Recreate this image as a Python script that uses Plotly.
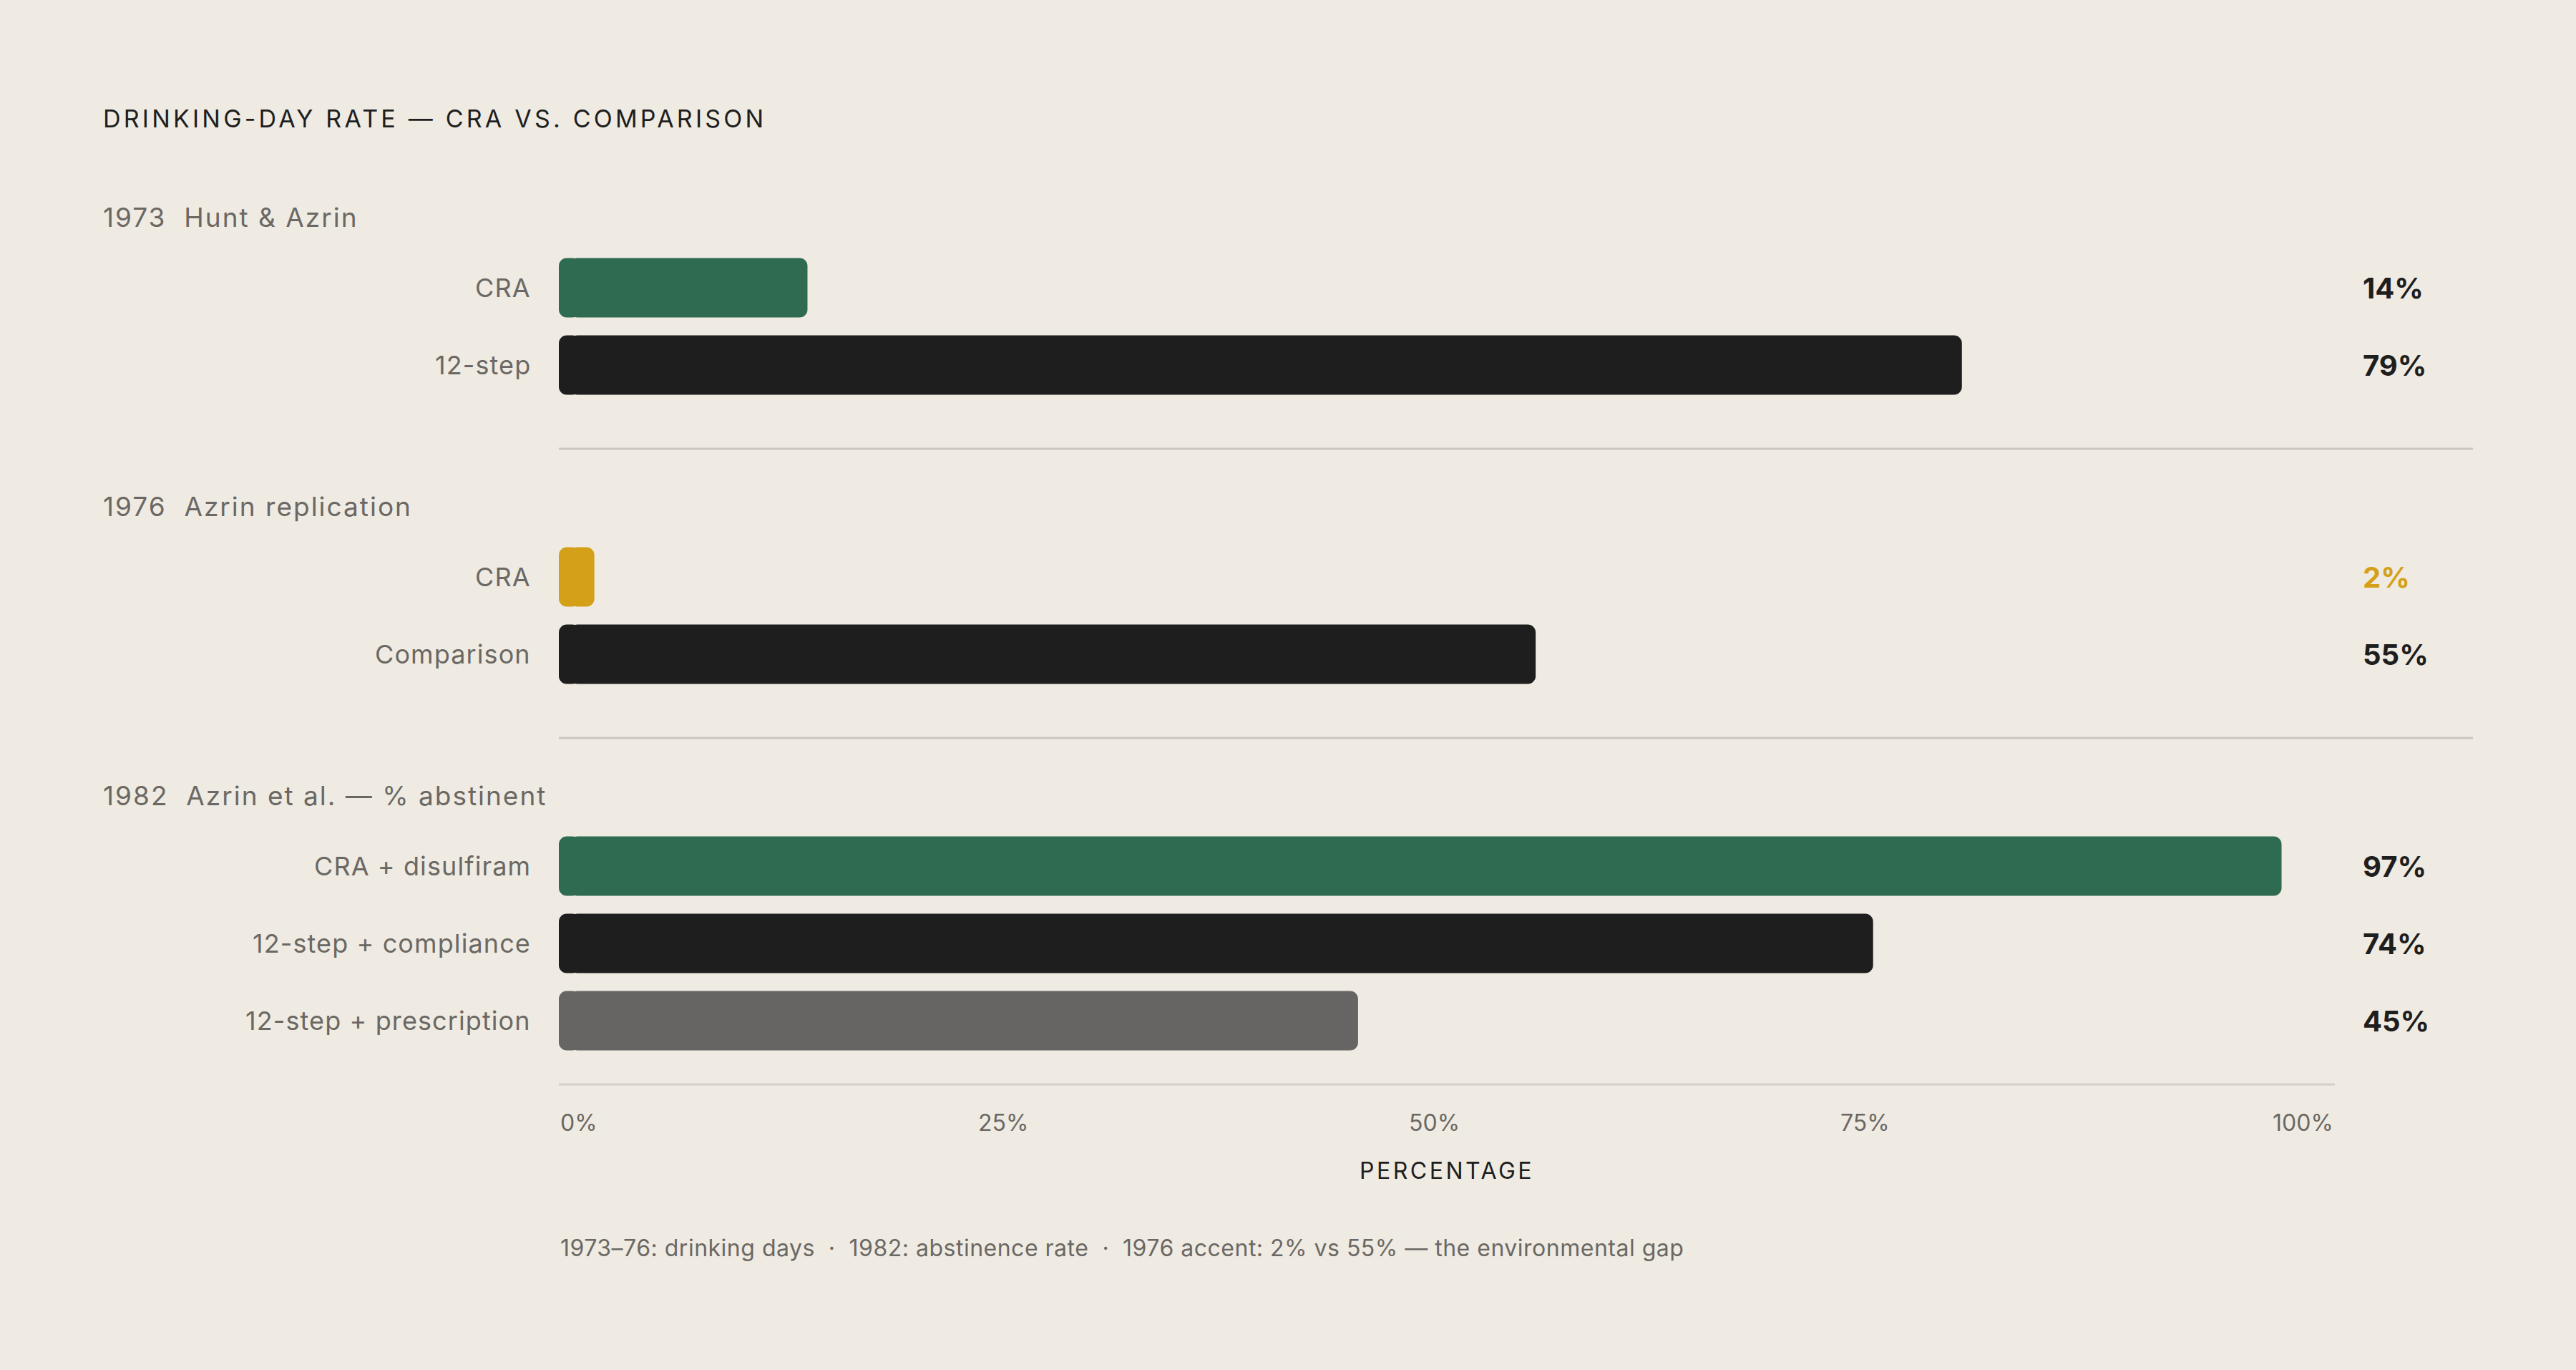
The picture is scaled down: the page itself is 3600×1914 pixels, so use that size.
import plotly.graph_objects as go

W, H = 3600, 1914

# data
group_titles = ["1973  Hunt & Azrin", "1976  Azrin replication", "1982  Azrin et al. — % abstinent"]
group_labels = [
    ["CRA", "12-step"],
    ["CRA", "Comparison"],
    ["CRA + disulfiram", "12-step + compliance", "12-step + prescription"],
]
group_values = [
    [14, 79],
    [2, 55],
    [97, 74, 45],
]
group_colors = [
    ["#2e6b50", "#1e1e1e"],
    ["#d4a017", "#1e1e1e"],
    ["#2e6b50", "#1e1e1e", "#666563"],
]
tick_vals = [0, 25, 50, 75, 100]
tick_text = ["0%", "25%", "50%", "75%", "100%"]

TITLE = "DRINKING-DAY RATE — CRA VS. COMPARISON"
X_TITLE = "PERCENTAGE"
FOOTNOTE = "1973–76: drinking days  ·  1982: abstinence rate  ·  1976 accent: 2% vs 55% — the environmental gap"

BG = "#efebe3"
INK = "#1e1e1e"
MUTED = "#6b6863"
FONT = "Inter"


def spaced(text, px):
    return f'<span style="letter-spacing:{px}px">{text}</span>'


# layout in pixels (y axis runs in pixels top->bottom)
X0, X1 = 781, 3263
FIRST_BAR = 402
PITCH = 108
BAR_H = 83
HEADER_OFF = 99
DIVIDER_OFF = 117
NEXT_HEADER_OFF = 80
CAP = 1.2  # length (in %) of the small left-rounded piece under each bar

# tick labels are spread edge to edge, like a space-between row
tick_anchor = ["left", "center", "center", "right", "right"]
tick_nudge = [0, 0, -18, 0, 0]

rows_y, rows_label, rows_val, rows_col = [], [], [], []
headers_y, dividers_y = [], []
y = FIRST_BAR
for gi, labels in enumerate(group_labels):
    headers_y.append(y - HEADER_OFF)
    for ri, lab in enumerate(labels):
        rows_y.append(y)
        rows_label.append(lab)
        rows_val.append(group_values[gi][ri])
        rows_col.append(group_colors[gi][ri])
        y += PITCH
    last = y - PITCH
    if gi < len(group_labels) - 1:
        dividers_y.append(last + DIVIDER_OFF)
        y = last + DIVIDER_OFF + NEXT_HEADER_OFF + HEADER_OFF
axis_y = last + 89

fig = go.Figure()
# left cap (rounded at 0) + main bar (rounded at the value end)
fig.add_bar(
    y=rows_y, x=[-CAP] * len(rows_val), base=[CAP] * len(rows_val),
    orientation="h", width=BAR_H,
    marker=dict(color=rows_col, line=dict(width=0)),
    hoverinfo="skip", showlegend=False,
)
fig.add_bar(
    y=rows_y, x=[v - CAP / 2 for v in rows_val], base=[CAP / 2] * len(rows_val),
    orientation="h", width=BAR_H,
    marker=dict(color=rows_col, line=dict(width=0)),
    customdata=rows_val, hovertemplate="%{customdata}%<extra></extra>", showlegend=False,
)

ann = []
ann.append(dict(text=spaced(TITLE, 4.2), x=142 / W, xref="paper", y=165, yref="y", xanchor="left",
                yanchor="middle", showarrow=False, font=dict(family=FONT, size=34, color=INK)))
for hy, t in zip(headers_y, group_titles):
    ann.append(dict(text=spaced(t, 2), x=142 / W, xref="paper", y=hy, yref="y", xanchor="left",
                    yanchor="middle", showarrow=False, font=dict(family=FONT, size=37, color=MUTED)))
for ry, lab, v, c in zip(rows_y, rows_label, rows_val, rows_col):
    ann.append(dict(text=spaced(lab, 1.1), x=744 / W, xref="paper", y=ry, yref="y", xanchor="right",
                    yanchor="middle", showarrow=False, font=dict(family=FONT, size=36, color=MUTED)))
    vc = c if c == "#d4a017" else INK
    ann.append(dict(text=f"<b>{v}%</b>", x=3300 / W, xref="paper", y=ry, yref="y", xanchor="left",
                    yanchor="middle", showarrow=False, font=dict(family=FONT, size=40, color=vc)))
for tv, tt, ta, tn in zip(tick_vals, tick_text, tick_anchor, tick_nudge):
    ann.append(dict(text=tt, x=tv, xref="x", y=axis_y + 53, yref="y", xanchor=ta, xshift=tn,
                    yanchor="middle", showarrow=False, font=dict(family=FONT, size=32, color=MUTED)))
ann.append(dict(text=spaced(X_TITLE, 3.5), x=50, xref="x", y=axis_y + 120, yref="y", xanchor="center",
                yanchor="middle", showarrow=False, font=dict(family=FONT, size=32, color=INK)))
ann.append(dict(text=spaced(FOOTNOTE, 0.5), x=0, xref="x", y=axis_y + 228, yref="y", xanchor="left",
                yanchor="middle", showarrow=False, font=dict(family=FONT, size=32, color=MUTED)))

shapes = []
for dy in dividers_y:
    shapes.append(dict(type="line", xref="paper", x0=X0 / W, x1=3456 / W, yref="y", y0=dy, y1=dy,
                       line=dict(color="#cac6bf", width=3)))
shapes.append(dict(type="line", xref="x", x0=0, x1=100, yref="y", y0=axis_y, y1=axis_y,
                   line=dict(color="#d3cfc8", width=3)))

fig.update_layout(
    width=W, height=H,
    margin=dict(l=0, r=0, t=0, b=0),
    paper_bgcolor=BG, plot_bgcolor=BG,
    barmode="overlay", barcornerradius=11,
    annotations=ann, shapes=shapes,
    xaxis=dict(domain=[X0 / W, X1 / W], range=[0, 100], showgrid=False, zeroline=False,
               showticklabels=False, ticks="", fixedrange=True),
    yaxis=dict(domain=[0, 1], range=[H, 0], showgrid=False, zeroline=False,
               showticklabels=False, ticks="", fixedrange=True),
    font=dict(family=FONT),
)

fig.write_html("out.html", config={"displayModeBar": False},
               post_script="document.body.style.margin='0';")
